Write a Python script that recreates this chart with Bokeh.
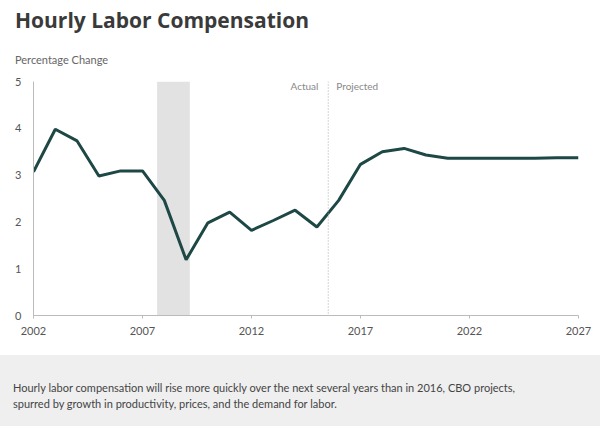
from bokeh.plotting import figure
from bokeh.models import Range1d, Span, BoxAnnotation, Label, FixedTicker, Div
from bokeh.layouts import column
from bokeh.embed import file_html
from bokeh.resources import INLINE

years = list(range(2002, 2028))
values = [3.07, 3.98, 3.73, 2.98, 3.09, 3.09, 2.46, 1.19, 1.98, 2.21, 1.82, 2.03, 2.25,
          1.89, 2.46, 3.23, 3.50, 3.57, 3.43, 3.36, 3.36, 3.36, 3.36, 3.36, 3.37, 3.37]
x_ticks = [2002, 2007, 2012, 2017, 2022, 2027]
y_ticks = [0, 1, 2, 3, 4, 5]
recession = [2007.67, 2009.17]
projection_start = 2015.52

title = "Hourly Labor Compensation"
ylabel = "Percentage Change"
caption = ("Hourly labor compensation will rise more quickly over the next several years than in 2016, CBO projects,<br>"
           "spurred by growth in productivity, prices, and the demand for labor.")

FONT = "Lato"

header = Div(width=600, height=70, margin=0,
             text=('<div style="position:relative;width:600px;height:70px;margin:0;font-family:Lato">'
                   '<div style="position:absolute;left:15px;top:7px;font-family:\'Open Sans\';font-size:21px;'
                   'font-weight:bold;color:#3a3a3a;line-height:27px;white-space:nowrap">' + title + '</div>'
                   '<div style="position:absolute;left:15px;top:52px;font-size:11px;color:#666666;'
                   'line-height:16px;white-space:nowrap">' + ylabel + '</div></div>'))

p = figure(width=600, height=285, output_backend="svg", toolbar_location=None,
           x_range=Range1d(2002, 2027), y_range=Range1d(0, 5),
           min_border_left=33, min_border_right=22, min_border_top=11, min_border_bottom=40,
           margin=0)
p.outline_line_color = None
p.grid.visible = False

p.add_layout(BoxAnnotation(left=recession[0], right=recession[1], fill_color="#e2e2e2",
                           fill_alpha=1, line_color=None, level="underlay"))
p.add_layout(Span(location=projection_start, dimension="height", line_color="#aaaaaa",
                  line_dash="1 2", line_width=1))

p.line(years, values, line_color="#1e4845", line_width=3)

for ax in (p.xaxis[0], p.yaxis[0]):
    ax.axis_line_color = "#bbbbbb"
    ax.major_tick_line_color = "#bbbbbb"
    ax.minor_tick_line_color = None
    ax.major_label_text_font = FONT
    ax.major_label_text_font_size = "11px"
    ax.major_label_text_color = "#555555"

p.xaxis.ticker = FixedTicker(ticks=x_ticks)
p.xaxis.major_tick_in = 0
p.xaxis.major_tick_out = 3
p.xaxis.major_label_standoff = 8

p.yaxis.ticker = FixedTicker(ticks=y_ticks)
p.yaxis.major_tick_in = 0
p.yaxis.major_tick_out = 0
p.yaxis.major_label_standoff = 12

p.add_layout(Label(x=2015.07, y=4.9, text="Actual", text_font=FONT, text_font_size="10px",
                   text_color="#888888", text_align="right", text_baseline="middle"))
p.add_layout(Label(x=2015.89, y=4.9, text="Projected", text_font=FONT, text_font_size="10px",
                   text_color="#888888", text_align="left", text_baseline="middle"))

footer = Div(width=600, height=71, margin=0,
             text=('<div style="background:#efefef;width:600px;height:71px;box-sizing:border-box;'
                   'padding:25px 13px 0 13px;font-family:Lato;font-size:11px;color:#444444;'
                   'line-height:16px;margin:0">' + caption + '</div>'))

layout = column(header, p, footer, spacing=0)
open("out.html", "w").write(file_html(layout, INLINE))
